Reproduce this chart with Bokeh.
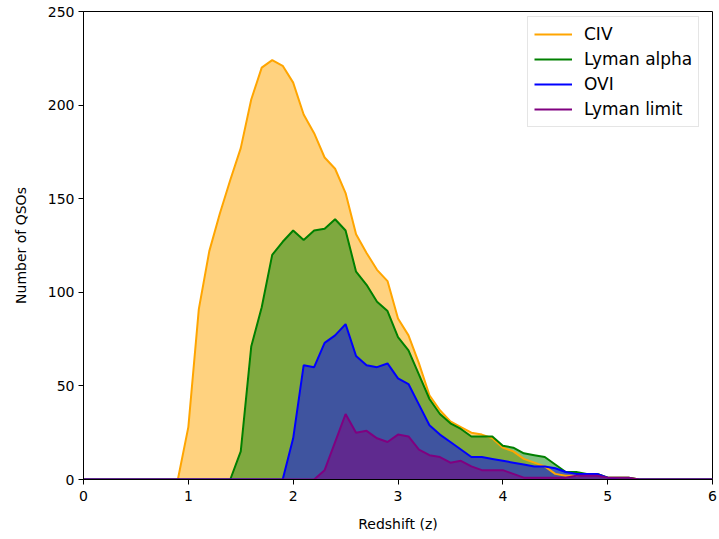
from bokeh.plotting import figure
from bokeh.models import Range1d, Legend, LegendItem, FixedTicker
from bokeh.embed import file_html
from bokeh.resources import INLINE

redshift = [0.0, 0.1, 0.2, 0.3, 0.4, 0.5, 0.6, 0.7, 0.8, 0.9,
            1.0, 1.1, 1.2, 1.3, 1.4, 1.5, 1.6, 1.7, 1.8, 1.9,
            2.0, 2.1, 2.2, 2.3, 2.4, 2.5, 2.6, 2.7, 2.8, 2.9,
            3.0, 3.1, 3.2, 3.3, 3.4, 3.5, 3.6, 3.7, 3.8, 3.9,
            4.0, 4.1, 4.2, 4.3, 4.4, 4.5, 4.6, 4.7, 4.8, 4.9,
            5.0, 5.1, 5.2, 5.3, 5.4, 5.5, 5.6, 5.7, 5.8, 5.9, 6.0]

civ = [0, 0, 0, 0, 0, 0, 0, 0, 0, 0,
       28, 91, 122, 142, 160, 177, 203, 220, 224, 221,
       212, 195, 185, 172, 166, 153, 131, 121, 112, 106,
       86, 77, 62, 45, 37, 31, 28, 25, 24, 22,
       17, 15, 11, 9, 7, 3, 2, 2, 3, 3,
       1, 1, 1, 0, 0, 0, 0, 0, 0, 0, 0]

lyman_alpha = [0, 0, 0, 0, 0, 0, 0, 0, 0, 0,
               0, 0, 0, 0, 0, 15, 71, 92, 120, 127,
               133, 128, 133, 134, 139, 133, 111, 104, 95, 90,
               76, 69, 56, 43, 35, 30, 27, 23, 23, 23,
               18, 17, 14, 13, 12, 8, 4, 4, 3, 3,
               1, 1, 1, 0, 0, 0, 0, 0, 0, 0, 0]

ovi = [0, 0, 0, 0, 0, 0, 0, 0, 0, 0,
       0, 0, 0, 0, 0, 0, 0, 0, 0, 0,
       22, 61, 60, 73, 77, 83, 66, 61, 60, 62,
       54, 51, 40, 29, 24, 20, 16, 12, 12, 11,
       10, 9, 8, 7, 7, 6, 4, 3, 3, 3,
       1, 0, 0, 0, 0, 0, 0, 0, 0, 0, 0]

lyman_limit = [0, 0, 0, 0, 0, 0, 0, 0, 0, 0,
               0, 0, 0, 0, 0, 0, 0, 0, 0, 0,
               0, 0, 0, 5, 20, 35, 25, 26, 22, 20,
               24, 23, 16, 13, 12, 9, 10, 7, 5, 5,
               5, 3, 1, 1, 1, 1, 1, 2, 2, 2,
               1, 1, 1, 0, 0, 0, 0, 0, 0, 0, 0]

series = [("CIV", civ, "#FFA500"),
          ("Lyman alpha", lyman_alpha, "#008000"),
          ("OVI", ovi, "#0000FF"),
          ("Lyman limit", lyman_limit, "#800080")]

x_ticks = [0, 1, 2, 3, 4, 5, 6]
y_ticks = [0, 50, 100, 150, 200, 250]

FONT = "DejaVu Sans"

p = figure(width=719, height=539, output_backend="svg", toolbar_location=None,
           x_range=Range1d(0, 6), y_range=Range1d(0, 250),
           min_border_left=83, min_border_right=7, min_border_top=11, min_border_bottom=60)

p.xgrid.visible = False
p.ygrid.visible = False
p.outline_line_color = "black"
p.outline_line_width = 1
p.background_fill_color = "white"
p.border_fill_color = "white"

# fills first (matplotlib draws collections beneath lines)
for name, vals, col in series:
    p.varea(x=redshift, y1=0, y2=vals, fill_color=col, fill_alpha=0.5)

items = []
for name, vals, col in series:
    r = p.line(redshift, vals, line_color=col, line_width=2)
    items.append(LegendItem(label=name, renderers=[r]))

for ax in (p.xaxis[0], p.yaxis[0]):
    ax.axis_line_color = "black"
    ax.major_tick_line_color = "black"
    ax.major_tick_out = 5
    ax.major_tick_in = 0
    ax.minor_tick_out = 0
    ax.minor_tick_in = 0
    ax.major_label_text_font = FONT
    ax.major_label_text_font_size = "14px"
    ax.major_label_text_color = "black"
    ax.axis_label_text_font = FONT
    ax.axis_label_text_font_size = "14px"
    ax.axis_label_text_font_style = "normal"
    ax.axis_label_text_color = "black"

p.xaxis[0].major_label_standoff = 6
p.yaxis[0].major_label_standoff = 4
p.xaxis[0].ticker = FixedTicker(ticks=x_ticks)
p.yaxis[0].ticker = FixedTicker(ticks=y_ticks)
p.xaxis[0].axis_label = "Redshift (z)"
p.yaxis[0].axis_label = "Number of QSOs"
p.xaxis[0].axis_label_standoff = 12
p.yaxis[0].axis_label_standoff = 16

legend = Legend(items=items, location=(444, 352))
legend.label_text_font = FONT
legend.label_text_font_size = "17px"
legend.label_text_color = "black"
legend.glyph_width = 38
legend.glyph_height = 22
legend.label_height = 22
legend.label_standoff = 12
legend.spacing = 3
legend.padding = 6
legend.margin = 0
legend.border_line_color = "#cccccc"
legend.border_line_width = 1
legend.background_fill_alpha = 0.8
p.add_layout(legend)

open("out.html", "w").write(file_html(p, INLINE))
